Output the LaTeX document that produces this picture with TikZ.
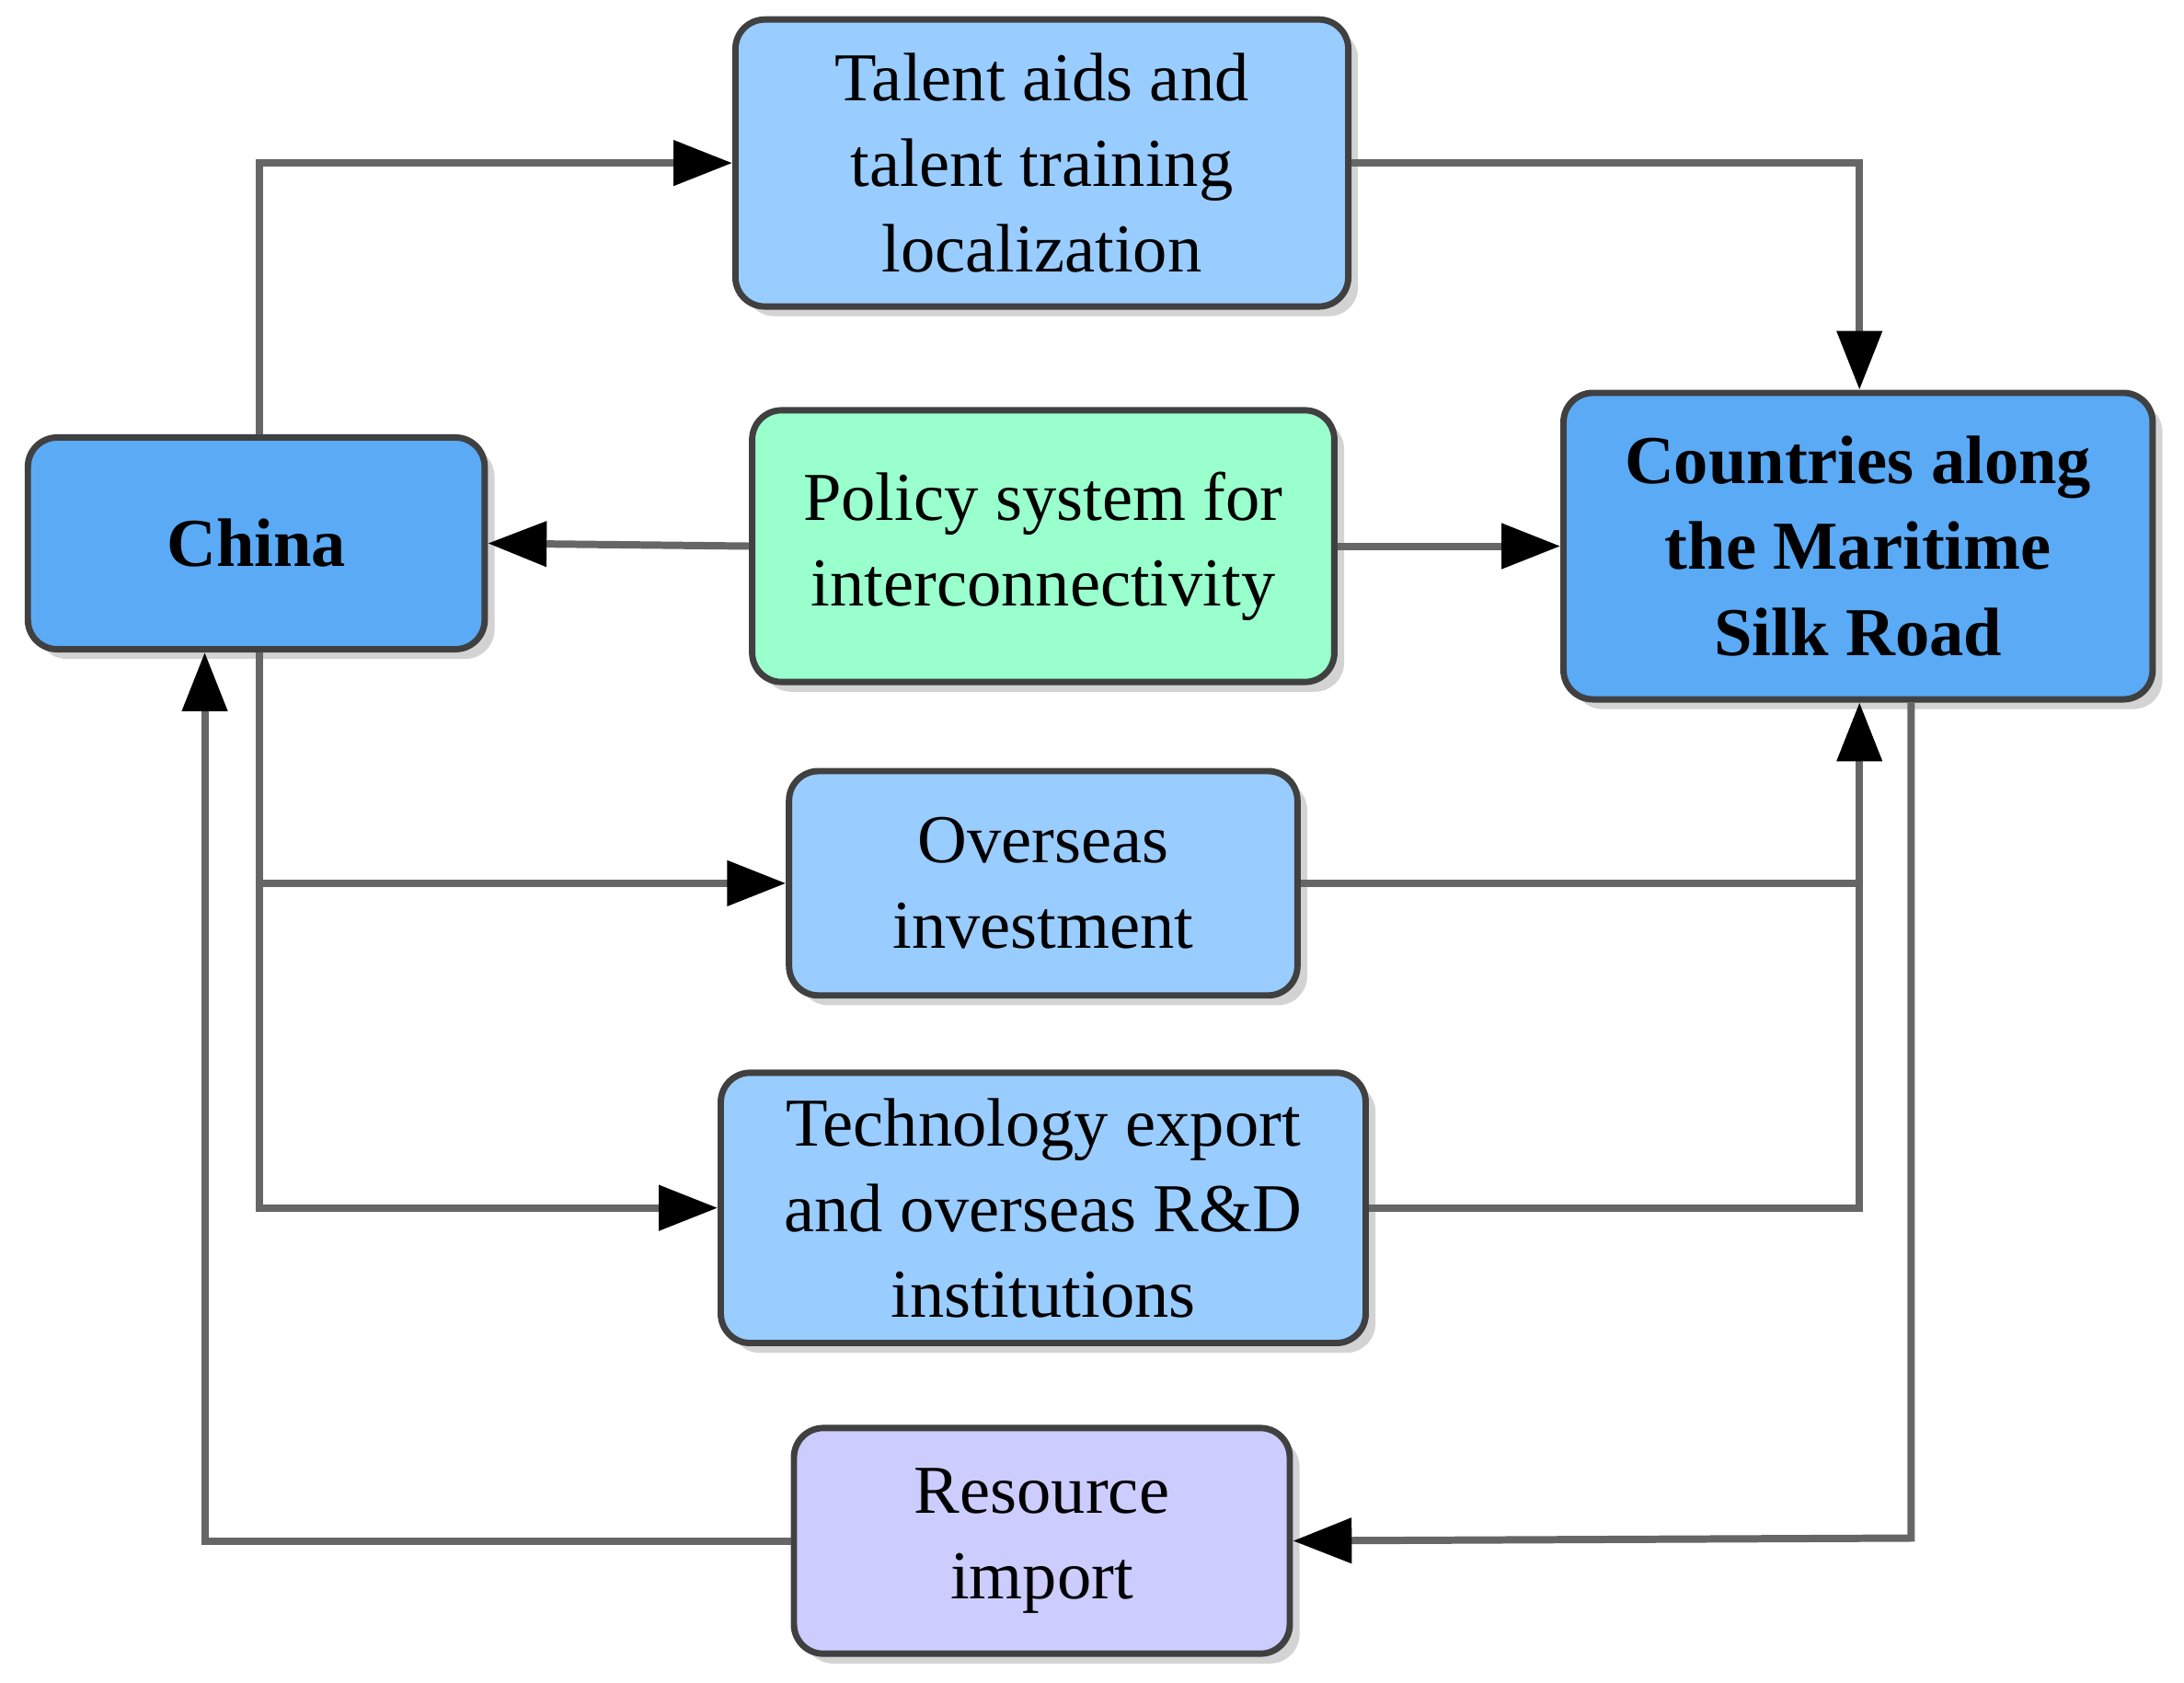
\documentclass[tikz,border=0pt]{standalone}
\usepackage{fontspec}
\setmainfont{Liberation Serif}
\usetikzlibrary{arrows.meta,shadows}
\begin{document}
\begin{tikzpicture}[x=0.1mm,y=-0.1mm,
 box/.style={draw=black!75,line width=1.3pt,rounded corners=6pt,align=center,inner sep=0pt,
   font=\fontsize{14pt}{17.5pt}\selectfont,drop shadow={shadow xshift=2pt,shadow yshift=-2pt,opacity=0.35}},
 lb/.style={box,fill=lightb}, db/.style={box,fill=darkb,font=\fontsize{14pt}{17.5pt}\selectfont\bfseries},
 ar/.style={draw=black!60,line width=1.5pt,-{Triangle[length=12pt,width=9pt,color=black]}},
 ln/.style={draw=black!60,line width=1.5pt}]
\definecolor{lightb}{HTML}{99CCFF}
\definecolor{darkb}{HTML}{5AAAF5}
\definecolor{greenb}{HTML}{99FFCC}
\definecolor{purpb}{HTML}{CCCCFF}
\useasboundingbox (0,0) rectangle (1568,1208);
\node[lb,minimum width=44mm,minimum height=20.6mm] (talent) at (748,117) {Talent aids and\\talent training\\localization};
\node[db,minimum width=32.8mm,minimum height=15.2mm] (china) at (184,390) {China};
\node[box,fill=greenb,minimum width=41.8mm,minimum height=19.5mm] (policy) at (749,392) {Policy system for\\interconnectivity};
\node[db,minimum width=42.3mm,minimum height=22mm] (ctry) at (1334,392) {Countries along\\the Maritime\\Silk Road};
\node[lb,minimum width=36.5mm,minimum height=16.1mm] (over) at (749,634) {Overseas\\investment};
\node[lb,minimum width=46.3mm,minimum height=19.4mm] (tech) at (749,867) {Technology export\\and overseas R\&D\\institutions};
\node[box,fill=purpb,minimum width=35.6mm,minimum height=16.2mm] (res) at (748,1106) {Resource\\import};
\coordinate (c1) at (186,117);
\coordinate (c2) at (1335,117);
\coordinate (j) at (1335,634);
\coordinate (j2) at (1335,867);
\coordinate (c3) at (1372,1104);
\coordinate (c4) at (147,1106);
\draw[ar] (china.north -| c1) -- (c1) -- (talent.west);
\draw[ar] (talent.east) -- (c2) -- (ctry.north -| c2);
\draw[ar] (policy.west) -- (china.east);
\draw[ar] (policy.east) -- (ctry.west);
\draw[ar] (china.south -| c1) |- (over.west);
\draw[ar] (china.south -| c1) |- (tech.west);
\draw[ln] (over.east) -- (j);
\draw[ar] (tech.east) -- (j2) -- (ctry.south -| j2);
\draw[ar] (ctry.south -| c3) -- (c3) -- (res.east);
\draw[ar] (res.west) -- (c4) -- (china.south -| c4);
\end{tikzpicture}
\end{document}
